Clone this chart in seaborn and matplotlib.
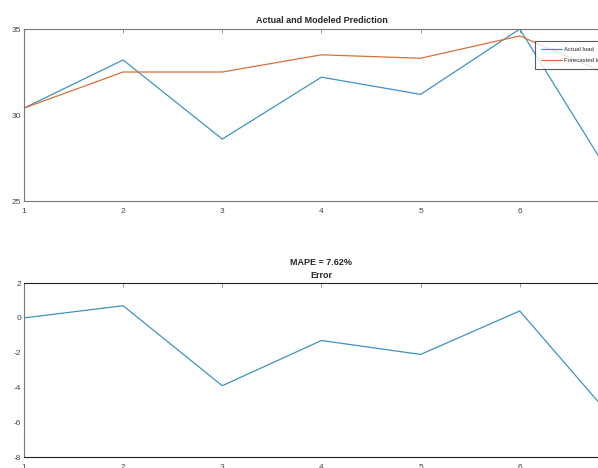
import pandas as pd
import matplotlib
matplotlib.use("Agg")
import matplotlib.pyplot as plt
import seaborn as sns

# data
steps = [1, 2, 3, 4, 5, 6, 7]
actual_load = [30.4, 33.2, 28.6, 32.2, 31.2, 35.0, 25.7]
forecasted_load = [30.4, 32.5, 32.5, 33.5, 33.3, 34.6, 32.1]
error = [0.0, 0.7, -3.9, -1.3, -2.1, 0.4, -6.2]
mape_text = "MAPE = 7.62%"

blue = "#3f93c2"
orange = "#d9703a"

sns.set_style("white")
plt.rcParams["font.family"] = ["Liberation Sans Narrow", "Liberation Sans", "DejaVu Sans"]
plt.rcParams["axes.unicode_minus"] = False

df = pd.DataFrame({"step": steps, "Actual load": actual_load,
                   "Forecasted load": forecasted_load, "error": error})

fig = plt.figure(figsize=(5.98, 4.68), dpi=100)
ax1 = fig.add_axes([0.040, 0.5705, 0.995, 0.3675])
ax2 = fig.add_axes([0.040, 0.0235, 0.995, 0.3715])

# 📌 top panel: actual vs forecast
sns.lineplot(data=df, x="step", y="Actual load", ax=ax1, color=blue,
             linewidth=0.9, label="Actual load")
sns.lineplot(data=df, x="step", y="Forecasted load", ax=ax1, color=orange,
             linewidth=0.9, label="Forecasted load")
ax1.set_xlim(1, 7)
ax1.set_ylim(25, 35)
ax1.set_yticks([25, 30, 35])
ax1.set_xticks(steps)
ax1.set_title("Actual and Modeled Prediction", fontsize=6.5, fontweight="bold", pad=4)
leg = ax1.legend(loc="upper left", bbox_to_anchor=(0.859, 0.93), fontsize=4.3,
                 frameon=True, fancybox=False, borderpad=1.0, handlelength=3.5,
                 handletextpad=0.4, labelspacing=0.9, borderaxespad=0)
leg.get_frame().set_edgecolor("#333333")
leg.get_frame().set_linewidth(0.8)

# 📌 bottom panel: error
sns.lineplot(data=df, x="step", y="error", ax=ax2, color=blue, linewidth=0.9)
ax2.set_xlim(1, 7)
ax2.set_ylim(-8, 2)
ax2.set_yticks([-8, -6, -4, -2, 0, 2])
ax2.set_xticks(steps)
ax2.set_title(mape_text + "\nError", fontsize=6.5, fontweight="bold", pad=4,
              linespacing=1.5)

for ax in (ax1, ax2):
    ax.set_xlabel("")
    ax.set_ylabel("")
    ax.tick_params(direction="in", length=3, width=0.6, colors="#888888",
                   labelsize=6, labelcolor="#444444", top=True, right=True, pad=2)
    ax.tick_params(axis="x", pad=5)
    for s in ax.spines.values():
        s.set_color("#777777")
        s.set_linewidth(0.8)
for s in ("top", "bottom"):
    ax2.spines[s].set_color("#222222")

fig.savefig("out.png", dpi=100)
